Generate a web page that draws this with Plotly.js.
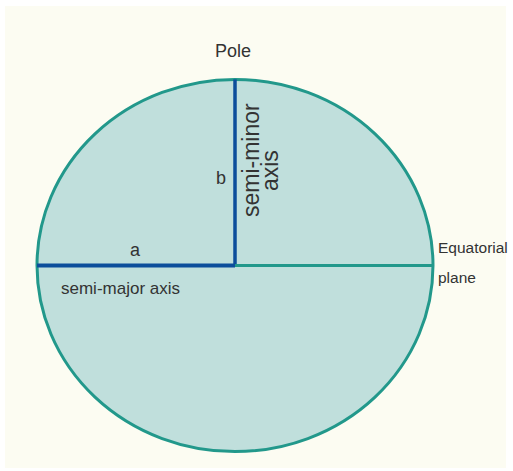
<!DOCTYPE html>
<html>
<head>
<meta charset="utf-8">
<script src="https://cdn.plot.ly/plotly-3.0.1.min.js"></script>
<style>html,body{margin:0;padding:0;background:#fff;}#chart{width:513px;height:471px;}</style>
</head>
<body>
<div id="chart"></div>
<script>
// Ellipse dimensions (semi-major axis a = 1 unit)
const axisNames = ["a", "b"];
const semiAxes = [1.0, 0.94];
const labelTexts = ["Pole", "b", "a", "semi-major axis", "semi-minor", "axis", "Equatorial", "plane"];

const a = semiAxes[0], b = semiAxes[1];
const TEAL = "#22988b", BLUE = "#0c4e9b", FILL = "#c0dfdc", TXT = "#333333";
const FONT = "Liberation Sans, Arial, sans-serif";

const traces = [
  {x: [-a, 0], y: [0, 0], mode: "lines", line: {color: BLUE, width: 4}, hoverinfo: "skip"},
  {x: [0, 0], y: [0, b], mode: "lines", line: {color: BLUE, width: 3.5}, hoverinfo: "skip"},
  {x: [0, a], y: [0, 0], mode: "lines", line: {color: TEAL, width: 3}, hoverinfo: "skip"}
];

function ann(text, x, y, opts) {
  return Object.assign({text: text, x: x, y: y, xref: "x", yref: "y", showarrow: false, borderpad: 0,
    font: {family: FONT, size: 17, color: TXT}}, opts || {});
}
const ROT = {textangle: -90, font: {family: FONT, size: 23, color: TXT}};
const EQ = {xanchor: "left", font: {family: FONT, size: 15.5, color: TXT}};

const layout = {
  width: 513, height: 471,
  margin: {l: 0, r: 0, t: 0, b: 0, pad: 0},
  paper_bgcolor: "#ffffff", plot_bgcolor: "rgba(0,0,0,0)",
  showlegend: false,
  xaxis: {range: [-1.18687, 1.40404], visible: false, fixedrange: true},
  yaxis: {range: [-1.03788, 1.34091], visible: false, fixedrange: true},
  shapes: [
    {type: "rect", xref: "paper", yref: "paper", x0: 5/513, x1: 506/513, y0: 1 - 468/471, y1: 1 - 6/471,
     fillcolor: "#fcfcf2", line: {width: 0}, layer: "below"},
    {type: "circle", xref: "x", yref: "y", x0: -a, x1: a, y0: -b, y1: b,
     fillcolor: FILL, line: {color: TEAL, width: 3}, layer: "below"}
  ],
  annotations: [
    ann(labelTexts[0], -0.01, 1.083, {font: {family: FONT, size: 18, color: TXT}}),
    ann(labelTexts[1], -0.0707, 0.442, {font: {family: FONT, size: 18, color: TXT}}),
    ann(labelTexts[2], -0.505, 0.078, {font: {family: FONT, size: 18, color: TXT}}),
    ann(labelTexts[3], -0.576, -0.114),
    ann(labelTexts[4], 0.081, 0.533, ROT),
    ann(labelTexts[5], 0.177, 0.477, ROT),
    ann(labelTexts[6], 1.022, 0.093, EQ),
    ann(labelTexts[7], 1.022, -0.062, EQ)
  ]
};

Plotly.newPlot("chart", traces, layout, {staticPlot: true, displayModeBar: false});
</script>
</body>
</html>
